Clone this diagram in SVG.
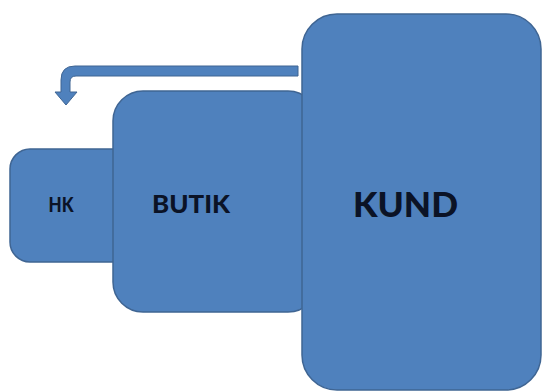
<svg xmlns="http://www.w3.org/2000/svg" width="543" height="392" viewBox="0 0 543 392">
<style>
.box{fill:#4F81BD;stroke:#3F6593;stroke-width:1.5}
.lbl{font-family:Lato,"Liberation Sans",sans-serif;font-weight:900;fill:#0B1326}
.arrow{fill:#4F81BD;stroke:#3F6593;stroke-width:1}
</style>
<rect width="543" height="392" fill="#FFFFFF"/>
<g id="hk">
<rect class="box" x="10" y="149" width="130" height="113" rx="20" ry="20"/>
<text class="lbl" x="48.5" y="212.3" font-size="20" textLength="25" lengthAdjust="spacingAndGlyphs">HK</text>
</g>
<g id="butik">
<rect class="box" x="113" y="91" width="205" height="221" rx="30" ry="30"/>
<text class="lbl" x="152" y="213.3" font-size="25.5" textLength="78" lengthAdjust="spacingAndGlyphs">BUTIK</text>
</g>
<g id="connectors">
<path class="arrow" d="M298 66 L75 66 Q61 66 61 80 L61 92 L55 92 L66 105 L77 92 L70 92 L70 82 Q70 76 76 76 L298 76 Z"/>
</g>
<g id="kund">
<rect class="box" x="302" y="14" width="239" height="376" rx="35" ry="35"/>
<text class="lbl" x="353" y="216.7" font-size="35" textLength="105" lengthAdjust="spacingAndGlyphs">KUND</text>
</g>
</svg>
